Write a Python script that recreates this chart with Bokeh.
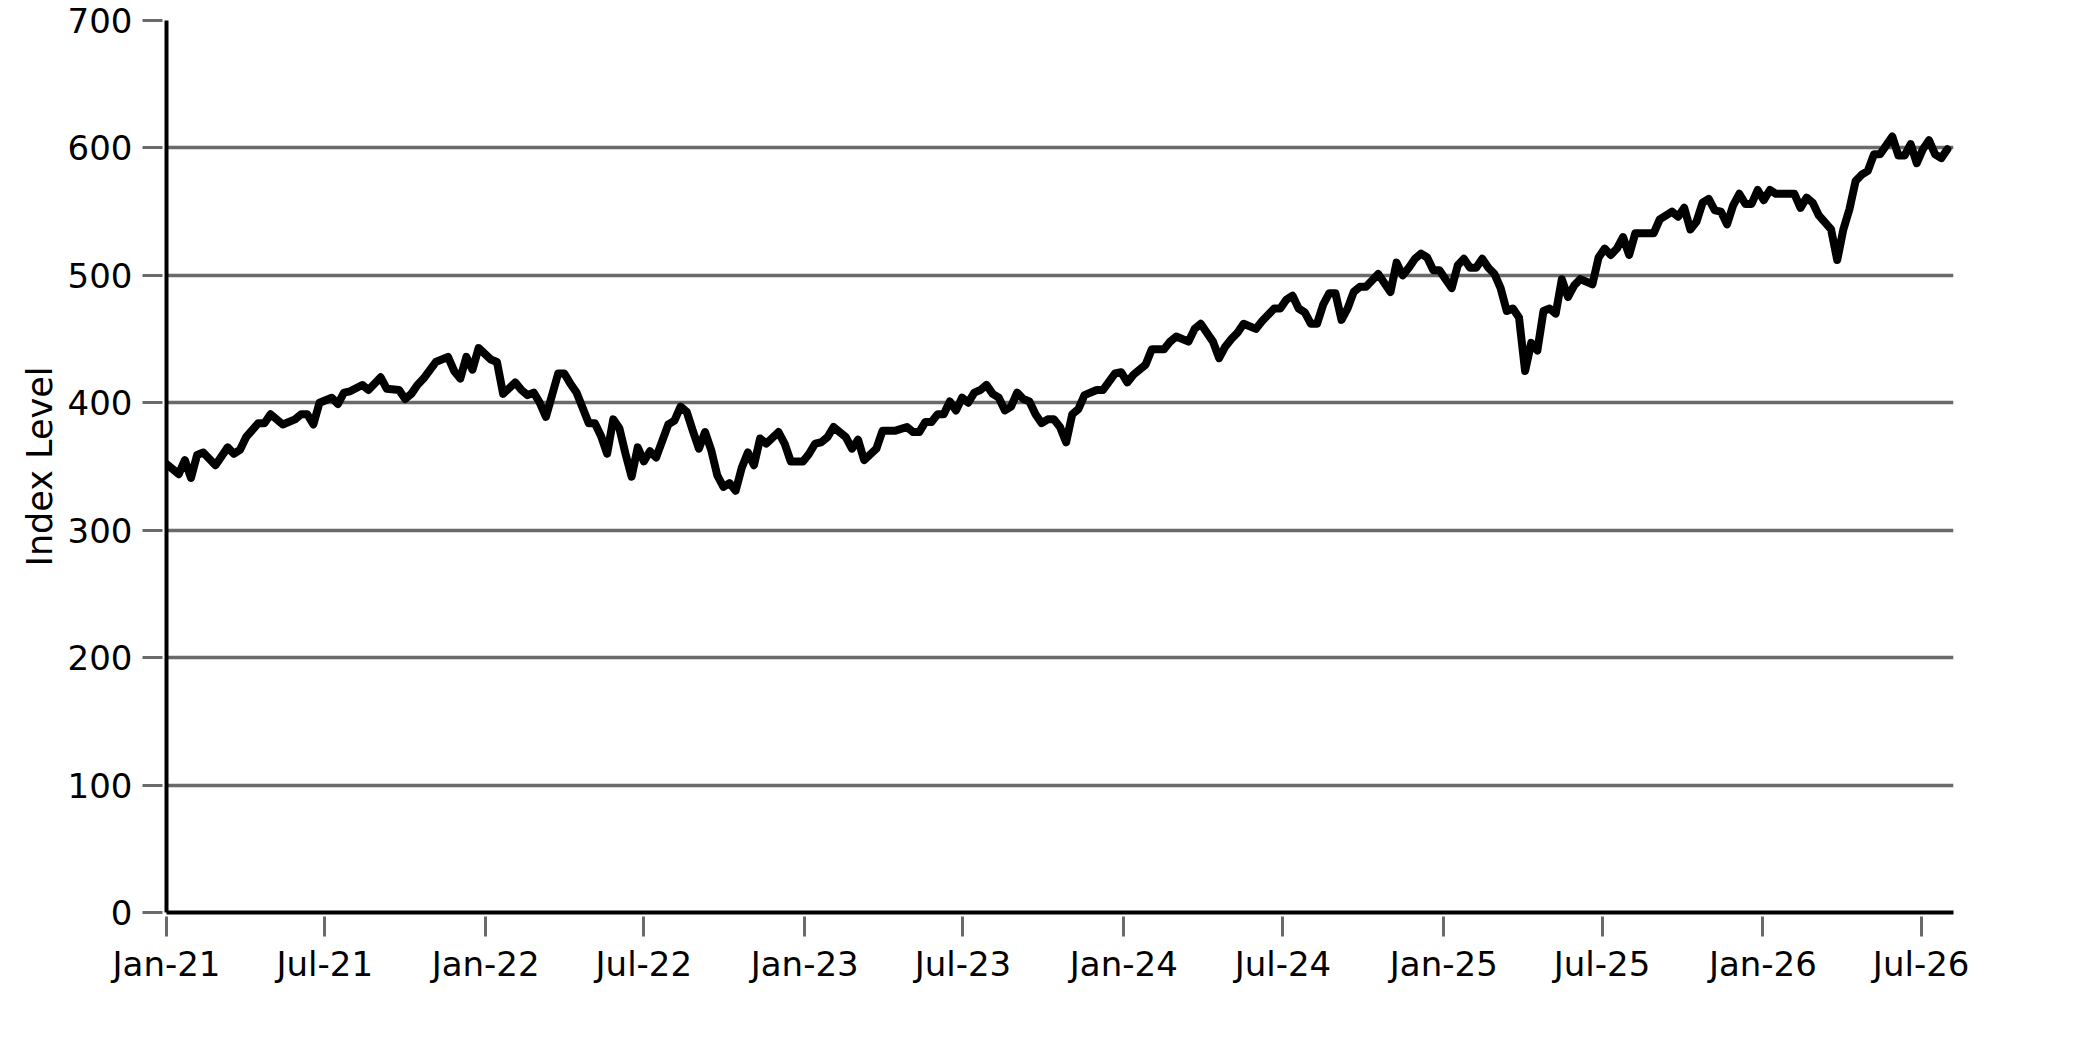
from datetime import datetime, timedelta

from bokeh.plotting import figure
from bokeh.models import Range1d, FixedTicker, DatetimeTickFormatter
from bokeh.embed import file_html
from bokeh.resources import INLINE

# ---- data (weeks after 2021-01-01, index level) ----
start_date = "2021-01-01"
weeks = [0, 2, 3, 4, 5, 6, 8, 10, 11, 12, 13, 15, 16, 17, 19, 21, 22, 23, 24, 25,
         27, 28, 29, 30, 32, 33, 35, 36, 38, 39, 40, 41, 42, 44, 46, 47, 48, 49, 50, 51,
         53, 54, 55, 57, 58, 59, 60, 61, 62, 64, 65, 66, 67, 69, 70, 71, 72, 73, 74, 75,
         76, 77, 78, 79, 80, 82, 83, 84, 85, 86, 87, 88, 89, 90, 91, 92, 93, 94, 95, 96,
         97, 98, 100, 101, 102, 104, 105, 106, 107, 108, 109, 110, 111, 112, 113, 114, 116, 117, 119, 121,
         122, 123, 124, 125, 126, 127, 128, 129, 130, 131, 132, 133, 134, 135, 136, 137, 138, 139, 140, 141,
         142, 143, 144, 145, 146, 147, 148, 149, 150, 152, 153, 155, 156, 157, 158, 160, 161, 163, 164, 165,
         167, 168, 169, 170, 171, 172, 173, 174, 175, 176, 178, 179, 181, 182, 183, 184, 185, 186, 187, 188,
         189, 190, 191, 192, 193, 194, 195, 196, 198, 200, 201, 202, 203, 204, 205, 206, 207, 208, 209, 210,
         211, 212, 213, 214, 215, 216, 217, 218, 219, 220, 221, 222, 223, 224, 225, 226, 227, 228, 229, 230,
         231, 233, 234, 235, 236, 237, 238, 239, 240, 243, 244, 246, 247, 248, 249, 250, 251, 252, 253, 254,
         255, 256, 257, 258, 259, 260, 261, 262, 263, 266, 267, 268, 269, 270, 272, 273, 274, 275, 276, 277,
         278, 279, 280, 281, 282, 283, 284, 285, 286, 287, 288, 289, 290, 291]
index_level = [352, 344, 355, 341, 359, 361, 351, 365, 360, 363, 373, 384, 384, 391, 383, 387, 391, 391, 383, 400,
               404, 399, 408, 409, 414, 410, 420, 411, 410, 403, 407, 414, 419, 432, 436, 425, 419, 436, 426, 443,
               434, 432, 407, 416, 410, 406, 408, 400, 389, 423, 423, 415, 408, 384, 384, 374, 360, 387, 380, 360,
               342, 365, 354, 362, 357, 383, 386, 397, 393, 378, 364, 377, 363, 343, 334, 337, 331, 349, 361, 351,
               372, 368, 377, 368, 354, 354, 360, 368, 369, 373, 381, 377, 373, 364, 371, 355, 364, 378, 378, 381,
               377, 377, 385, 385, 391, 391, 401, 394, 404, 400, 408, 410, 414, 407, 404, 394, 397, 408, 403, 401,
               391, 384, 387, 387, 381, 369, 391, 395, 406, 410, 410, 423, 424, 416, 422, 430, 442, 442, 448, 452,
               448, 458, 462, 455, 448, 435, 444, 450, 455, 462, 458, 464, 474, 474, 481, 484, 474, 471, 462, 462,
               477, 486, 486, 465, 474, 487, 491, 491, 501, 487, 510, 500, 506, 513, 517, 514, 504, 504, 497, 490,
               508, 513, 506, 506, 513, 506, 501, 490, 472, 474, 467, 425, 447, 441, 472, 474, 470, 497, 483, 492,
               497, 493, 514, 521, 516, 521, 530, 516, 533, 533, 544, 550, 546, 553, 536, 542, 557, 560, 551, 550,
               540, 555, 564, 556, 556, 567, 559, 567, 564, 564, 553, 561, 557, 547, 536, 512, 536, 552, 574, 579,
               582, 595, 595, 602, 609, 594, 594, 603, 588, 599, 606, 595, 592, 599]

tick_dates = ["2021-01-01", "2021-07-01", "2022-01-01", "2022-07-01", "2023-01-01", "2023-07-01",
              "2024-01-01", "2024-07-01", "2025-01-01", "2025-07-01", "2026-01-01", "2026-07-01"]
y_ticks = [0, 100, 200, 300, 400, 500, 600, 700]
x_end = "2026-08-07"

t0 = datetime.fromisoformat(start_date)
dates = [t0 + timedelta(days=7 * w) for w in weeks]
tick_ms = [datetime.fromisoformat(d).timestamp() * 1000 for d in tick_dates]

FONT = "DejaVu Sans"
GRID = "#6a6a6a"

p = figure(
    x_axis_type="datetime",
    frame_width=1787, frame_height=892,
    min_border_left=166, min_border_right=60, min_border_top=20, min_border_bottom=100,
    x_range=Range1d(t0, datetime.fromisoformat(x_end)),
    y_range=Range1d(0, 700),
    output_backend="svg", toolbar_location=None,
)
p.outline_line_color = None
p.background_fill_color = "white"
p.border_fill_color = "white"

p.line(dates, index_level, line_color="black", line_width=8, line_join="round", line_cap="round")

# x axis
xa = p.xaxis[0]
xa.ticker = FixedTicker(ticks=tick_ms)
xa.formatter = DatetimeTickFormatter(
    milliseconds="%b-%y", seconds="%b-%y", minsec="%b-%y", minutes="%b-%y", hourmin="%b-%y",
    hours="%b-%y", days="%b-%y", months="%b-%y", years="%b-%y")
xa.minor_tick_line_color = None

# y axis
ya = p.yaxis[0]
ya.ticker = FixedTicker(ticks=y_ticks)
ya.minor_tick_line_color = None
ya.axis_label = "Index Level"

for ax in (xa, ya):
    ax.axis_line_color = "black"
    ax.axis_line_width = 4
    ax.major_tick_line_color = GRID
    ax.major_tick_line_width = 3
    ax.major_tick_in = -4
    ax.major_tick_out = 24
    ax.major_label_text_font = FONT
    ax.major_label_text_font_size = "34px"
    ax.major_label_text_color = "black"
    ax.axis_label_text_font = FONT
    ax.axis_label_text_font_size = "35px"
    ax.axis_label_text_font_style = "normal"
    ax.axis_label_text_color = "black"

xa.major_label_standoff = 7
ya.major_label_standoff = 10
ya.axis_label_standoff = 5

p.xgrid.grid_line_color = None
p.ygrid.ticker = FixedTicker(ticks=y_ticks)
p.ygrid.grid_line_color = GRID
p.ygrid.grid_line_width = 3.5

open("out.html", "w").write(file_html(p, INLINE))
